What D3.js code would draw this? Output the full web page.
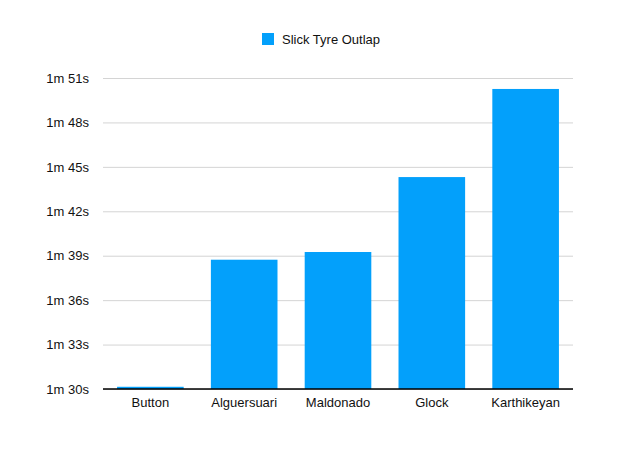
<!DOCTYPE html>
<html>
<head>
<meta charset="utf-8">
<script src="https://cdn.jsdelivr.net/npm/d3@7"></script>
<style>
  html, body { margin: 0; padding: 0; background: #fff; }
  svg { display: block; font-family: "Liberation Sans", Arial, Helvetica, sans-serif; }
</style>
</head>
<body>
<svg id="chart" width="625" height="463"></svg>
<script>
const categories = ["Button", "Alguersuari", "Maldonado", "Glock", "Karthikeyan"];
const seriesName = "Slick Tyre Outlap";
const lapSeconds = [90.15, 98.73, 99.25, 104.31, 110.26];
const tickValues = [90, 93, 96, 99, 102, 105, 108, 111];
const tickLabels = ["1m 30s", "1m 33s", "1m 36s", "1m 39s", "1m 42s", "1m 45s", "1m 48s", "1m 51s"];

const color = "#03a0fb";
const svg = d3.select("#chart");
const margin = { left: 103, right: 52, top: 78, bottom: 74 };
const W = 625, H = 463;

const x = d3.scaleBand()
  .domain(categories)
  .range([margin.left, W - margin.right])
  .paddingInner(0.29)
  .paddingOuter(0.15);

const y = d3.scaleLinear()
  .domain([90, 111])
  .range([H - margin.bottom, margin.top]);

// gridlines
const yAxis = d3.axisLeft(y)
  .tickValues(tickValues)
  .tickSize(-(W - margin.left - margin.right))
  .tickPadding(14)
  .tickFormat((d, i) => tickLabels[i]);

const gy = svg.append("g")
  .attr("transform", `translate(${margin.left},0)`)
  .call(yAxis);
gy.select(".domain").remove();
gy.selectAll(".tick line").attr("stroke", "#d4d4d4").attr("stroke-width", 1);
gy.selectAll(".tick text")
  .attr("fill", "#111")
  .style("font-size", "13px");

// bars
svg.append("g").selectAll("rect")
  .data(categories)
  .join("rect")
  .attr("x", d => x(d))
  .attr("width", x.bandwidth())
  .attr("y", (d, i) => y(lapSeconds[i]))
  .attr("height", (d, i) => y(90) - y(lapSeconds[i]))
  .attr("fill", color);

// x axis
const xAxis = d3.axisBottom(x).tickSize(0).tickPadding(9);
const gx = svg.append("g")
  .attr("transform", `translate(0,${y(90)})`)
  .call(xAxis);
gx.select(".domain").attr("stroke", "#000").attr("stroke-width", 1.3)
  .attr("d", `M${margin.left},0H${W - margin.right}`);
gx.selectAll(".tick text").attr("fill", "#111").style("font-size", "13px");

// legend
const lg = svg.append("g").attr("transform", "translate(262,33)");
lg.append("rect").attr("width", 12).attr("height", 12).attr("fill", color);
lg.append("text").attr("x", 20).attr("y", 11)
  .attr("fill", "#111").style("font-size", "13px").text(seriesName);
</script>
</body>
</html>
